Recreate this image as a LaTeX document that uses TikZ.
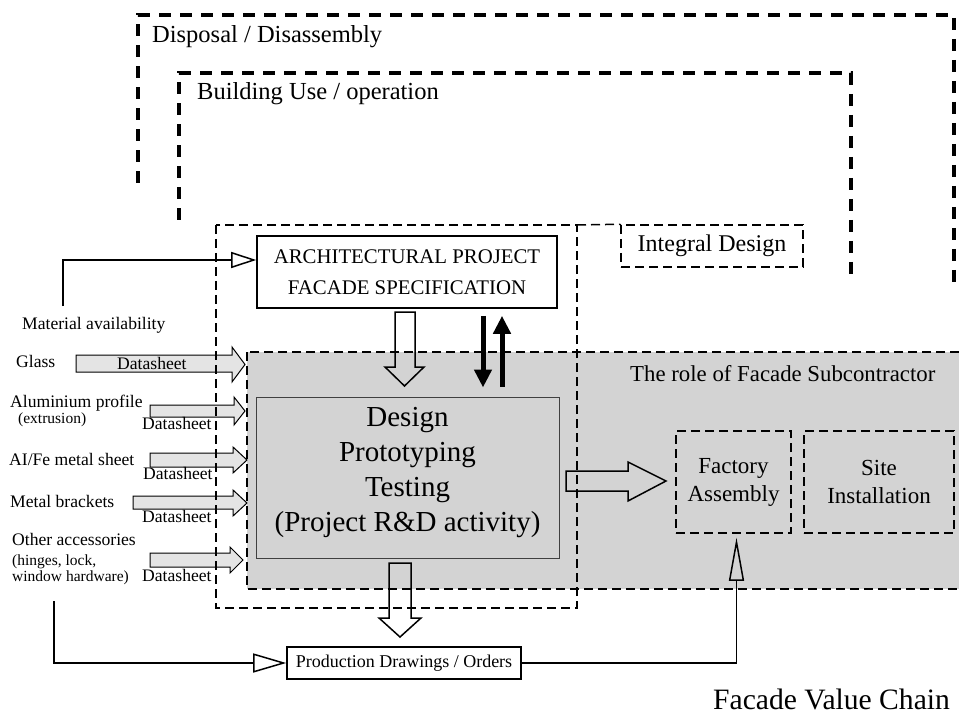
\documentclass[tikz,border=0pt]{standalone}
\usepackage{fontspec}
\setmainfont{Liberation Serif}
\usetikzlibrary{arrows.meta}
\definecolor{rolegray}{HTML}{D3D3D3}
\definecolor{datagray}{HTML}{E4E4E4}
\newcommand{\fsz}[2]{\fontsize{#1}{#2}\selectfont}

\begin{document}
\begin{tikzpicture}[x=1pt,y=-1pt,
  thinbox/.style={draw, line width=1.6pt},
  dashbox/.style={draw, line width=1.5pt, dash pattern=on 9pt off 5pt},
  phasebox/.style={line width=4pt, dash pattern=on 12pt off 9pt},
  hollow/.style={draw, line width=1.5pt, line join=miter},
  datarrow/.style={draw, fill=datagray, line width=1pt},
  feed/.style={line width=1.5pt},
  fat/.style={line width=5pt, -{Triangle[length=18pt,width=17pt]}},
  lbl/.style={anchor=base west, font=\fsz{17.6}{21}},
  lbls/.style={anchor=base west, font=\fsz{15.5}{18}}]
\tikzstyle{every node}+=[inner sep=0pt]
\useasboundingbox (0,0) rectangle (959,714);
\draw [phasebox] (138,183) -- (138,15) -- (954,15) -- (954,285);
\draw [phasebox] (179,220) -- (179,73) -- (851,73) -- (851,281);
\node [anchor=base west, font=\fsz{24.5}{29}] (disp) at (152,43) {Disposal / Disassembly};
\node [anchor=base west, font=\fsz{24.5}{29}] (use) at (197,100) {Building Use / operation};
\draw [dashbox, fill=rolegray] (247,352) rectangle (975,589);
\node [anchor=base west, font=\fsz{22.8}{27}] (role) at (630,381) {The role of Facade Subcontractor};
\draw [datarrow] (76,355) -- (232,355) -- (232,347) -- (245,364.5) -- (232,382) -- (232,372) -- (76,372) -- cycle;
\draw [datarrow] (150,405) -- (234,405) -- (234,397) -- (245,411) -- (234,425) -- (234,417) -- (150,417) -- cycle;
\draw [datarrow] (150,453) -- (233,453) -- (233,447) -- (247,460) -- (233,473) -- (233,467) -- (150,467) -- cycle;
\draw [datarrow] (133,496) -- (233,496) -- (233,490) -- (247,503) -- (233,516) -- (233,509) -- (133,509) -- cycle;
\draw [datarrow] (150,553) -- (230,553) -- (230,547) -- (243,560) -- (230,573) -- (230,567) -- (150,567) -- cycle;
\draw [dashbox] (216,225) rectangle (577,608);
\node [dashbox, minimum width=182, minimum height=42, font=\fsz{24}{28}] (integ) at (712,246) {Integral Design};
\draw [dashbox] (577,225) -- (integ.north west);
\node [thinbox, minimum width=300, minimum height=72, align=center, font=\fsz{20.8}{31}] (arch) at (407,272) {ARCHITECTURAL PROJECT\\FACADE SPECIFICATION};
\node [draw=black!75, line width=1pt, minimum width=303, minimum height=161] (rd) at (407.5,477.5) {};
\node [align=center, font=\fsz{29}{35}] (rdtext) at (407.5,472.5) {Design\\Prototyping\\Testing\\(Project R\&D activity)};
\node [dashbox, minimum width=115, minimum height=102, align=center, font=\fsz{23}{28}] (fa) at (733.5,482) {Factory\\Assembly};
\node [dashbox, minimum width=150, minimum height=102, align=center, font=\fsz{23}{28}] (si) at (879,482) {Site\\Installation};
\node [thinbox, minimum width=234, minimum height=32, font=\fsz{18}{22}] (prod) at (404,663) {Production Drawings / Orders};
\draw [hollow] (395,312) -- (415,312) -- (415,367) -- (424,367) -- (404.5,386) -- (385,367) -- (395,367) -- cycle;
\draw [hollow] (389,563) -- (411,563) -- (411,618) -- (421,618) -- (400,637) -- (379,618) -- (389,618) -- cycle;
\draw [hollow] (566,471) -- (628,471) -- (628,462) -- (666,481) -- (628,501) -- (628,491) -- (566,491) -- cycle;
\draw [fat] ([xshift=76pt,yshift=-7pt]arch.south) -- ([xshift=75.5pt,yshift=9pt]rd.north);
\draw [fat] ([xshift=94.5pt,yshift=10pt]rd.north) -- ([xshift=95pt,yshift=-7pt]arch.south);
\node [lbl] (mat) at (22,329) {Material availability};
\node [lbl] (glass) at (16,367) {Glass};
\node [lbl] (alu) at (10,407) {Aluminium profile};
\node [lbls] (alux) at (18,423) {(extrusion)};
\node [lbl] (sheet) at (9,465) {AI/Fe metal sheet};
\node [lbl] (brack) at (10,507) {Metal brackets};
\node [lbl] (acc) at (12,545) {Other accessories};
\node [lbls] (acc2) at (12,565) {(hinges, lock,};
\node [lbls] (acc3) at (12,581) {window hardware)};
\node [lbl] (ds1) at (117,369) {Datasheet};
\node [lbl] (ds2) at (142,429) {Datasheet};
\node [lbl] (ds3) at (143,479) {Datasheet};
\node [lbl] (ds4) at (142,522) {Datasheet};
\node [lbl] (ds5) at (142,581) {Datasheet};
\coordinate (matup) at (63,306);
\coordinate (othdown) at (54,601);
\draw [feed, -{Triangle[open, length=25pt, width=16pt]}] (matup) |- ([yshift=12pt]arch.west);
\draw [feed, -{Triangle[open, length=33pt, width=19pt]}] (othdown) |- (prod.west);
\draw [feed, -{Triangle[open, length=43pt, width=15pt]}] (prod.east) -| ([xshift=3pt,yshift=-4pt]fa.south);
\node [anchor=base west, font=\fsz{29.6}{34}] (title) at (713,709) {Facade Value Chain};
\end{tikzpicture}
\end{document}
